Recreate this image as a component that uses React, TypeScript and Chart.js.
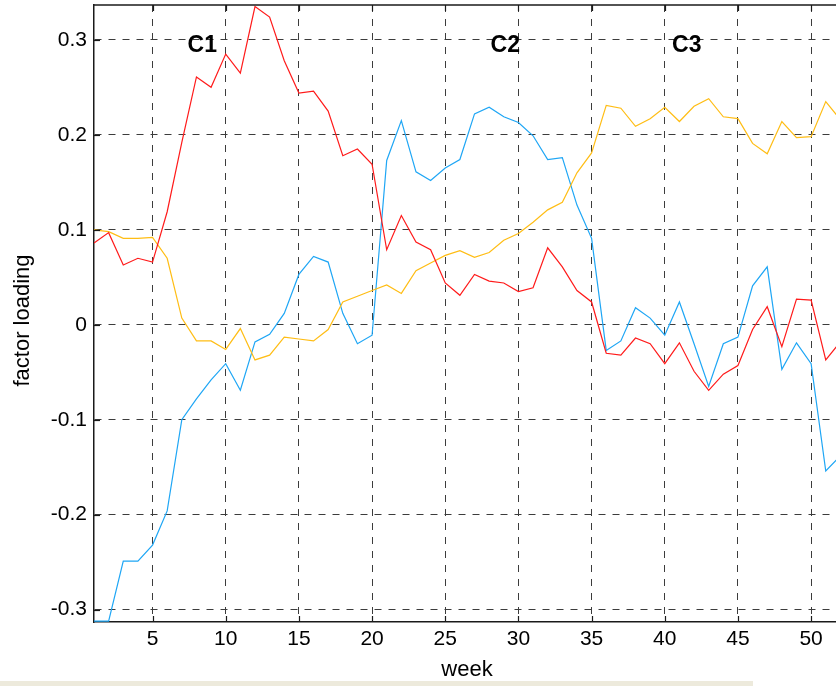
import React, { useEffect, useRef } from "react";
import { Chart, registerables } from "chart.js";

Chart.register(...registerables);

const weeks: number[] = Array.from({ length: 52 }, (_, i) => i + 1);

const seriesRed: number[] = [
  0.086, 0.097, 0.063, 0.070, 0.066, 0.119, 0.192, 0.261, 0.250, 0.285,
  0.265, 0.335, 0.324, 0.278, 0.244, 0.246, 0.225, 0.178, 0.185, 0.169,
  0.079, 0.115, 0.087, 0.079, 0.044, 0.031, 0.053, 0.046, 0.044, 0.035,
  0.039, 0.081, 0.061, 0.036, 0.024, -0.030, -0.032, -0.014, -0.020, -0.041,
  -0.019, -0.049, -0.069, -0.052, -0.043, -0.005, 0.019, -0.023, 0.027, 0.026,
  -0.037, -0.018,
];

const seriesYellow: number[] = [
  0.100, 0.098, 0.091, 0.091, 0.092, 0.070, 0.007, -0.017, -0.017, -0.026,
  -0.004, -0.037, -0.032, -0.013, -0.015, -0.017, -0.005, 0.024, 0.030, 0.036,
  0.042, 0.033, 0.057, 0.065, 0.073, 0.078, 0.071, 0.076, 0.089, 0.096,
  0.108, 0.121, 0.129, 0.160, 0.181, 0.231, 0.228, 0.209, 0.217, 0.229,
  0.214, 0.230, 0.238, 0.219, 0.217, 0.191, 0.180, 0.214, 0.197, 0.198,
  0.235, 0.216,
];

const seriesBlue: number[] = [
  -0.312, -0.312, -0.249, -0.249, -0.232, -0.196, -0.100, -0.078, -0.058, -0.041,
  -0.069, -0.018, -0.010, 0.012, 0.053, 0.072, 0.066, 0.012, -0.020, -0.011,
  0.173, 0.215, 0.161, 0.152, 0.165, 0.174, 0.222, 0.229, 0.219, 0.213,
  0.199, 0.174, 0.176, 0.126, 0.091, -0.027, -0.017, 0.018, 0.007, -0.011,
  0.024, -0.020, -0.065, -0.020, -0.013, 0.041, 0.061, -0.047, -0.019, -0.041,
  -0.154, -0.138,
];

const xTicks: number[] = [5, 10, 15, 20, 25, 30, 35, 40, 45, 50];
const yTicks: number[] = [-0.3, -0.2, -0.1, 0, 0.1, 0.2, 0.3];

const clusterLabels: string[] = ["C1", "C2", "C3"];
const clusterWeeks: number[] = [8.4, 29.1, 41.5];
const clusterLevel = 0.294;

const xTitle = "week";
const yTitle = "factor loading";

const FONT = "'Liberation Sans', Arial, Helvetica, sans-serif";

const decorPlugin = {
  id: "decor",
  afterDraw(chart: any) {
    const { ctx, chartArea, scales } = chart;
    const { left, right, top, bottom } = chartArea;
    ctx.save();
    ctx.strokeStyle = "#1a1a1a";
    ctx.lineWidth = 1.5;
    ctx.beginPath();
    ctx.moveTo(left, top);
    ctx.lineTo(right + 2, top);
    ctx.stroke();
    ctx.lineWidth = 1.2;
    const tl = 6;
    xTicks.forEach((v) => {
      const px = Math.round(scales.x.getPixelForValue(v)) + 0.5;
      ctx.beginPath();
      ctx.moveTo(px, bottom);
      ctx.lineTo(px, bottom - tl);
      ctx.moveTo(px, top);
      ctx.lineTo(px, top + tl);
      ctx.stroke();
    });
    yTicks.forEach((v) => {
      const py = Math.round(scales.y.getPixelForValue(v)) + 0.5;
      ctx.beginPath();
      ctx.moveTo(left, py);
      ctx.lineTo(left + tl, py);
      ctx.stroke();
    });
    ctx.fillStyle = "#000";
    ctx.font = `bold 23px ${FONT}`;
    ctx.textAlign = "center";
    ctx.textBaseline = "middle";
    clusterLabels.forEach((t, i) => {
      ctx.fillText(
        t,
        scales.x.getPixelForValue(clusterWeeks[i]),
        scales.y.getPixelForValue(clusterLevel)
      );
    });
    ctx.font = `22px ${FONT}`;
    ctx.fillText(xTitle, (left + right) / 2 + 2, 670);
    ctx.save();
    ctx.translate(23, (top + bottom) / 2 + 7);
    ctx.rotate(-Math.PI / 2);
    ctx.fillText(yTitle, 0, 0);
    ctx.restore();
    ctx.restore();
  },
};

export default function App() {
  const canvasRef = useRef<HTMLCanvasElement | null>(null);

  useEffect(() => {
    if (!canvasRef.current) return;
    const mk = (d: number[]) => weeks.map((w, i) => ({ x: w, y: d[i] }));
    const chart = new Chart(canvasRef.current, {
      type: "line",
      data: {
        datasets: [
          {
            label: "C1",
            data: mk(seriesRed),
            borderColor: "#ff1a1a",
            borderWidth: 1.2,
            pointRadius: 0,
            tension: 0,
          },
          {
            label: "C3",
            data: mk(seriesYellow),
            borderColor: "#ffbd14",
            borderWidth: 1.2,
            pointRadius: 0,
            tension: 0,
          },
          {
            label: "C2",
            data: mk(seriesBlue),
            borderColor: "#1ea6f5",
            borderWidth: 1.2,
            pointRadius: 0,
            tension: 0,
          },
        ],
      },
      options: {
        animation: false,
        responsive: true,
        maintainAspectRatio: false,
        layout: { padding: { top: 5, left: 0, right: 0, bottom: 0 }, autoPadding: false } as any,
        plugins: {
          legend: { display: false },
          tooltip: { enabled: false },
          title: { display: false },
        },
        scales: {
          x: {
            type: "linear",
            min: 1,
            max: 51.7,
            afterBuildTicks: (s: any) => {
              s.ticks = xTicks.map((v) => ({ value: v }));
            },
            afterFit: (s: any) => {
              s.height = 64;
              s.paddingLeft = 0;
              s.paddingRight = 0;
              s.paddingTop = 0;
              s.paddingBottom = 0;
            },
            ticks: {
              color: "#000",
              font: { family: FONT, size: 21 },
              padding: 5,
              maxRotation: 0,
              autoSkip: false,
              callback: (v: any) => String(v),
            },
            grid: { color: "#3c3c3c", lineWidth: 1, drawTicks: false },
            border: { display: true, color: "#1a1a1a", width: 1.5, dash: [7, 7] },
          },
          y: {
            type: "linear",
            min: -0.313,
            max: 0.3367,
            afterBuildTicks: (s: any) => {
              s.ticks = yTicks.map((v) => ({ value: v }));
            },
            afterFit: (s: any) => {
              s.width = 94;
              s.paddingLeft = 0;
              s.paddingRight = 0;
              s.paddingTop = 0;
              s.paddingBottom = 0;
            },
            ticks: {
              color: "#000",
              font: { family: FONT, size: 21 },
              padding: 7,
              autoSkip: false,
              callback: (v: any) => {
                const n = Math.round(Number(v) * 10) / 10;
                return n === 0 ? "0" : String(n);
              },
            },
            grid: { color: "#3c3c3c", lineWidth: 1, drawTicks: false },
            border: { display: true, color: "#1a1a1a", width: 1.5, dash: [7, 7] },
          },
        },
      },
      plugins: [decorPlugin],
    });
    return () => chart.destroy();
  }, []);

  return (
    <div
      style={{
        position: "fixed",
        left: 0,
        top: 0,
        width: 836,
        height: 686,
        background: "#fff",
        overflow: "hidden",
      }}
    >
      <canvas ref={canvasRef} />
      <div
        style={{
          position: "absolute",
          left: 0,
          top: 681,
          width: 753,
          height: 5,
          background: "#edeadc",
        }}
      />
    </div>
  );
}
